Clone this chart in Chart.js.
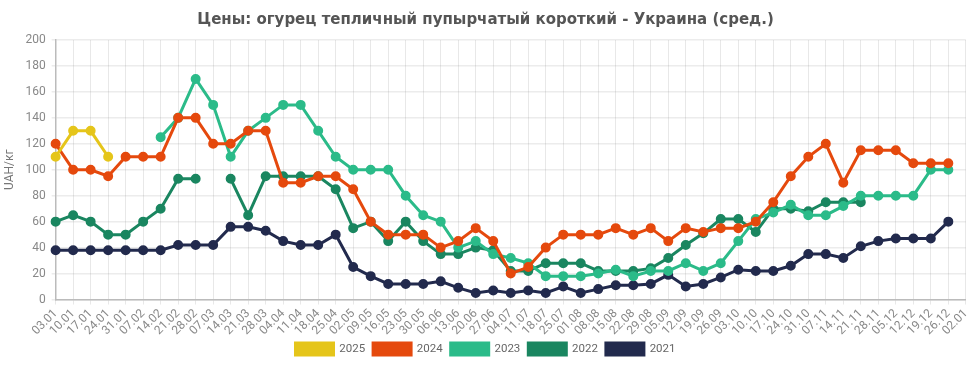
<!DOCTYPE html>
<html>
<head>
<meta charset="utf-8">
<script src="https://cdn.jsdelivr.net/npm/chart.js@4"></script>
<style>
  html, body { margin: 0; padding: 0; background: #fff; }
  #wrap { width: 978px; height: 365px; }
</style>
</head>
<body>
<div id="wrap"><canvas id="myChart"></canvas></div>
<script>
// Weekly labels
const labels = ['03.01','10.01','17.01','24.01','31.01','07.02','14.02','21.02','28.02','07.03','14.03','21.03','28.03','04.04','11.04','18.04','25.04','02.05','09.05','16.05','23.05','30.05','06.06','13.06','20.06','27.06','04.07','11.07','18.07','25.07','01.08','08.08','15.08','22.08','29.08','05.09','12.09','19.09','26.09','03.10','10.10','17.10','24.10','31.10','07.11','14.11','21.11','28.11','05.12','12.12','19.12','26.12','02.01'];

// Prices by year, UAH/kg
const y2025 = [110, 130, 130, 110];
const y2024 = [120, 100, 100, 95, 110, 110, 110, 140, 140, 120, 120, 130, 130, 90, 90, 95, 95, 85, 60, 50, 50, 50, 40, 45, 55, 45, 20, 25, 40, 50, 50, 50, 55, 50, 55, 45, 55, 52, 55, 55, 60, 75, 95, 110, 120, 90, 115, 115, 115, 105, 105, 105, null];
const y2023 = [null, null, null, null, null, null, 125, 140, 170, 150, 110, 130, 140, 150, 150, 130, 110, 100, 100, 100, 80, 65, 60, 40, 45, 35, 32, 28, 18, 18, 18, 20, 23, 18, 22, 22, 28, 22, 28, 45, 62, 67, 73, 65, 65, 72, 80, 80, 80, 80, 100, 100, null];
const y2022 = [60, 65, 60, 50, 50, 60, 70, 93, 93, null, 93, 65, 95, 95, 95, 95, 85, 55, 60, 45, 60, 45, 35, 35, 40, 38, 22, 22, 28, 28, 28, 22, 22, 22, 24, 32, 42, 51, 62, 62, 52, 70, 70, 68, 75, 75, 75];
const y2021 = [38, 38, 38, 38, 38, 38, 38, 42, 42, 42, 56, 56, 53, 45, 42, 42, 50, 25, 18, 12, 12, 12, 14, 9, 5, 7, 5, 7, 5, 10, 5, 8, 11, 11, 12, 19, 10, 12, 17, 23, 22, 22, 26, 35, 35, 32, 41, 45, 47, 47, 47, 60, null];

const yTicks = [0, 20, 40, 60, 80, 100, 120, 140, 160, 180, 200];

const series = [
  { label: '2025', data: y2025, color: '#e5c51a' },
  { label: '2024', data: y2024, color: '#e5490d' },
  { label: '2023', data: y2023, color: '#2bbb89' },
  { label: '2022', data: y2022, color: '#1a8660' },
  { label: '2021', data: y2021, color: '#222a4d' }
];

Chart.defaults.font.family = 'Roboto, sans-serif';

const ctx = document.getElementById('myChart').getContext('2d');
new Chart(ctx, {
  type: 'line',
  data: {
    labels: labels,
    datasets: series.map(s => ({
      label: s.label,
      data: s.data,
      borderColor: s.color,
      backgroundColor: s.color,
      pointBackgroundColor: s.color,
      pointBorderColor: s.color,
      borderWidth: 3,
      pointRadius: 3.5,
      tension: 0,
      spanGaps: false
    }))
  },
  options: {
    responsive: true,
    maintainAspectRatio: false,
    animation: false,
    layout: { padding: { left: 1, right: 8, top: 0, bottom: 0 } },
    scales: {
      x: {
        afterFit: scale => { scale.height -= 5; },
        ticks: {
          color: '#888',
          font: { size: 12 },
          minRotation: 45,
          maxRotation: 45,
          autoSkip: false,
          padding: 2
        },
        grid: { color: 'rgba(128,128,128,0.18)', tickLength: 5 },
        border: { color: '#bbb', width: 1.5 }
      },
      y: {
        min: 0,
        max: 200,
        afterBuildTicks: axis => { axis.ticks = yTicks.map(v => ({ value: v })); },
        ticks: { color: '#888', font: { size: 12 }, padding: 6 },
        grid: { color: 'rgba(128,128,128,0.15)', tickLength: 4, lineWidth: 1.5 },
        border: { color: '#bbb', width: 1.5 },
        title: { display: true, text: 'UAH/кг', color: '#777', font: { size: 12 }, padding: 2 }
      }
    },
    plugins: {
      title: {
        display: true,
        text: 'Цены: огурец тепличный пупырчатый короткий - Украина (сред.)',
        color: '#555',
        font: { family: '"DejaVu Sans", sans-serif', size: 15, weight: 'bold' },
        padding: { top: 11, bottom: 11 }
      },
      legend: {
        position: 'bottom',
        labels: {
          color: '#666',
          boxWidth: 38,
          boxHeight: 12,
          padding: 8,
          font: { size: 11.5 }
        }
      },
      tooltip: { enabled: false }
    }
  }
});
</script>
</body>
</html>
